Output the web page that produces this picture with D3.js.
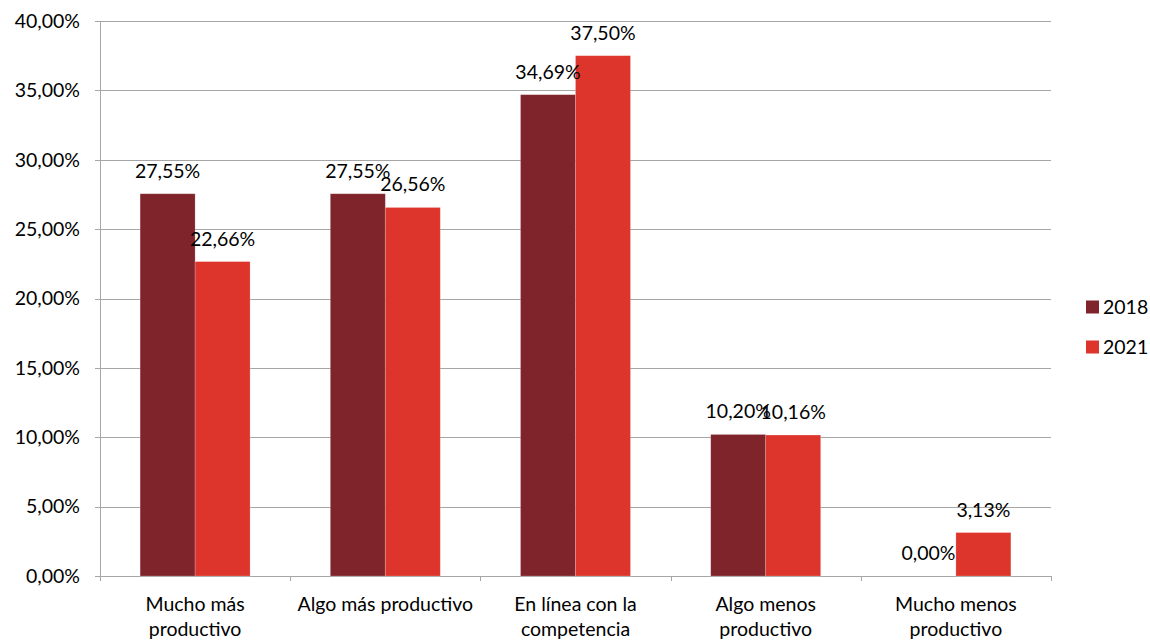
<!DOCTYPE html>
<html><head><meta charset="utf-8">
<script src="https://cdn.jsdelivr.net/npm/d3@7"></script>
<style>body{margin:0;background:#fff}svg{display:block}text{font-family:Lato,"Open Sans",sans-serif;fill:#000}</style>
</head><body>
<svg id="c" width="1150" height="641"></svg>
<script>
const categories = [["Mucho más","productivo"],["Algo más productivo"],["En línea con la","competencia"],["Algo menos","productivo"],["Mucho menos","productivo"]];
const seriesNames = ["2018","2021"];
const values2018 = [27.55, 27.55, 34.69, 10.20, 0.00];
const values2021 = [22.66, 26.56, 37.50, 10.16, 3.13];
const yTicks = [0,5,10,15,20,25,30,35,40];
const colors = ["#7f242a","#dd352b"];

const FS = 19.5;
const svg = d3.select("#c");
const L=100, R=1051, T=21, B=576;
const x = d3.scaleBand().domain(d3.range(categories.length)).range([L,R]).paddingInner(0).paddingOuter(0);
const x1 = d3.scaleBand().domain(seriesNames).range([0,x.bandwidth()]).paddingOuter(0.73).paddingInner(0);
const y = d3.scaleLinear().domain([0,40]).range([B,T]);
const fmt = v => v.toFixed(2).replace(".",",")+"%";

// gridlines
svg.append("g").selectAll("line").data(yTicks).join("line")
  .attr("x1",L-5).attr("x2",R).attr("y1",d=>Math.round(y(d))+0.5).attr("y2",d=>Math.round(y(d))+0.5)
  .attr("stroke","#a6a6a6").attr("stroke-width",1);
// y axis line
svg.append("line").attr("x1",L+0.5).attr("x2",L+0.5).attr("y1",T).attr("y2",B).attr("stroke","#a6a6a6");
// x ticks
const xt = d3.range(categories.length+1).map(i=> i<categories.length ? x(i) : R);
svg.append("g").selectAll("line").data(xt).join("line")
  .attr("x1",d=>Math.round(d)+0.5).attr("x2",d=>Math.round(d)+0.5).attr("y1",B).attr("y2",B+5).attr("stroke","#a6a6a6");
// y labels
svg.append("g").selectAll("text").data(yTicks).join("text")
  .attr("x",80).attr("y",d=>y(d)).attr("dy","0.35em").attr("text-anchor","end")
  .attr("font-size",FS).text(d=>fmt(d));
// bars
const series = [values2018, values2021];
series.forEach((vals,si)=>{
  const g = svg.append("g");
  g.selectAll("rect").data(vals).join("rect")
    .attr("x",(d,i)=>x(i)+x1(seriesNames[si])).attr("width",x1.bandwidth())
    .attr("y",d=>y(d)).attr("height",d=>y(0)-y(d))
    .attr("fill",colors[si]).attr("stroke","#ffffff").attr("stroke-opacity",0.25).attr("stroke-width",0.75);
});
series.forEach((vals,si)=>{
  svg.append("g").selectAll("text").data(vals).join("text")
    .attr("x",(d,i)=>x(i)+x1(seriesNames[si])+x1.bandwidth()/2)
    .attr("y",d=>y(d)-16).attr("text-anchor","middle").attr("font-size",FS).text(d=>fmt(d));
});
// category labels
categories.forEach((lines,i)=>{
  const t = svg.append("text").attr("x",x(i)+x.bandwidth()/2).attr("y",611).attr("text-anchor","middle").attr("font-size",FS);
  lines.forEach((ln,k)=>t.append("tspan").attr("x",x(i)+x.bandwidth()/2).attr("dy",k?24.5:0).text(ln));
});
// legend
seriesNames.forEach((n,i)=>{
  const yy = 307 + i*40;
  svg.append("rect").attr("x",1086).attr("y",yy-6.5).attr("width",13).attr("height",13).attr("fill",colors[i]);
  svg.append("text").attr("x",1103).attr("y",yy).attr("dy","0.35em").attr("font-size",FS).text(n);
});
</script>
</body></html>
